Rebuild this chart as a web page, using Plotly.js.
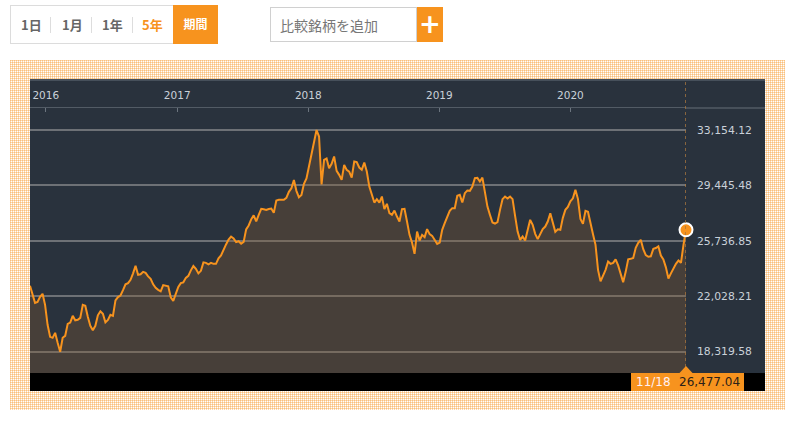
<!DOCTYPE html>
<html><head><meta charset="utf-8">
<script src="https://cdn.plot.ly/plotly-3.0.1.min.js"></script>
<style>
body{margin:0;background:#fff;width:800px;height:425px;overflow:hidden;position:relative;font-family:"Noto Sans CJK JP",sans-serif;}
.abs{position:absolute;}
#periods{left:10px;top:5px;width:205px;height:37px;border:1px solid #dcdcdc;box-sizing:content-box;}
.pbtn{position:absolute;top:0;height:37px;line-height:37px;font-size:13px;font-weight:700;color:#666;}
.sep{position:absolute;top:11px;width:1px;height:16px;background:#ddd;}
#kikan{position:absolute;left:162px;top:-1px;width:45px;height:39px;background:#f7931e;color:#fff;font-size:12px;font-weight:700;text-align:center;line-height:37px;}
#cmp{left:270px;top:7px;border:1px solid #d0d0d0;font-size:14px;color:#777;line-height:34px;padding-left:9px;box-sizing:border-box;width:147px;height:35px;}
#plus{left:417px;top:7px;width:26px;height:35px;background:#f7931e;color:#fff;font-size:26px;font-weight:700;text-align:center;line-height:34px;font-family:"DejaVu Sans",sans-serif;}
#frame{left:10px;top:60px;width:775px;height:350px;background-color:#fff;
 background-image:linear-gradient(90deg,rgba(247,147,30,0.35) 1px,transparent 1px),linear-gradient(rgba(247,147,30,0.35) 1px,transparent 1px);
 background-size:2px 2px;}
#panel{left:30px;top:79px;width:735px;height:294px;background:#29323d;border-top:2px solid #46505b;box-sizing:border-box;}
#chart{left:0;top:0;width:800px;height:425px;}
</style></head><body>
<div id="periods" class="abs">
  <span class="pbtn" style="left:10px">1日</span>
  <span class="sep" style="left:39px"></span>
  <span class="pbtn" style="left:51px">1月</span>
  <span class="sep" style="left:80px"></span>
  <span class="pbtn" style="left:91px">1年</span>
  <span class="sep" style="left:121px"></span>
  <span class="pbtn" style="left:131px;color:#f7931e">5年</span>
  <div id="kikan">期間</div>
</div>
<div id="cmp" class="abs">比較銘柄を追加</div>
<div id="plus" class="abs">+</div>
<div id="frame" class="abs"></div>
<div id="panel" class="abs"></div>
<div id="chart" class="abs"></div>
<script>
// Weekly closes, 2015-11-18 .. 2020-11-18
const firstWeek = '2015-11-18';
const closeValues = [
22726,22191,21589,21655,21990,22191,21455,20117,19314,19247,
19581,18912,18319.58,19247,19381,20183,20270,20719,20418,20451,
20585,21455,21388,20652,20050,19749,20050,20752,21020,20853,
20284,20451,20786,20719,21756,21977,22077,22438,22826,22907,
23128,23562,24064,23462,23496,23663,23596,23362,23194,22826,
22592,22458,22358,22773,22726,22693,21957,21722,22191,22659,
22907,22960,23261,23395,23763,24051,23864,23556,23730,24298,
24265,24165,24265,24198,24198,24566,24767,25162,25496,25824,
26025,25904,25650,25710,25550,25670,26506,26767,27176,27443,
27042,27477,27878,27845,27798,27865,27898,27610,28433,28480,
28480,28480,28614,29016,29250,29805,29083,28648,28801,29551,
29919,30755,31572,32241,33154.12,32716,29510,31157,31244,30601,
30889,31378,30421,30153,29819,30822,30488,30374,29972,31043,
31003,30642,30488,30976,30374,29370,28882,28300,28527,28300,
28701,27858,28213,27590,27477,27764,27363,27028,27858,27878,
27028,26138,25623,24867,26359,25757,26138,25985,26520,26185,
26072,25804,25536,25623,26473,26921,27323,27744,27925,27925,
28748,28815,28300,28929,29103,29083,29370,29932,29952,29705,
29972,29036,28032,27477,26961,26895,26988,27811,28527,28701,
28567,28701,28527,27410,26359,25804,26025,25757,26426,27142,
26808,26205,25851,26138,26520,26694,27028,27577,26874,26339,
26506,26473,27276,27811,28012,28380,28581,29149,28547,27209,
26874,27744,27677,26808,26172,25469,23797,23027,23429,23797,
24352,24198,24265,24499,24098,23496,22974,23663,24499,24533,
24586,25269,25603,25804,25182,24780,24673,24700,25202,25255,
25369,24753,24499,23964,23221,23562,23917,24198,24426,24265,
25469,26477.04
];
const yTickValues = [18319.58, 22028.21, 25736.85, 29445.48, 33154.12];
const lastLabelDate = '11/18';

const weekDates = [];
{
  const d0 = new Date(firstWeek + 'T00:00:00Z');
  for (let i = 0; i < closeValues.length; i++) {
    const d = new Date(d0.getTime() + i * 7 * 86400000);
    weekDates.push(d.toISOString().slice(0, 10));
  }
}
const lastDate = weekDates[weekDates.length - 1];
const lastVal = closeValues[closeValues.length - 1];
const fmt = v => v.toLocaleString('en-US', {minimumFractionDigits: 2, maximumFractionDigits: 2});

const ORANGE = '#f7931e';
// plot area: x 30..686, y 108..373
const W = 656, H = 265;
const px = x => (x - 30) / W;
const py = y => (373 - y) / H;

const traces = [
  {x: weekDates, y: closeValues, type: 'scatter', mode: 'lines',
   line: {color: '#f7931e', width: 2}, fill: 'tozeroy', fillcolor: 'rgba(140,95,50,0.31)',
   hoverinfo: 'skip'},
  {x: [lastDate], y: [lastVal], type: 'scatter', mode: 'markers', cliponaxis: false,
   marker: {size: 13, color: ORANGE, line: {color: '#ffffff', width: 2}}, hoverinfo: 'skip'}
];

const layout = {
  width: 800, height: 425,
  margin: {l: 30, r: 114, t: 108, b: 52},
  paper_bgcolor: 'rgba(0,0,0,0)', plot_bgcolor: '#29323d',
  showlegend: false,
  font: {family: 'DejaVu Sans, sans-serif', size: 10, color: '#c9d1d9'},
  xaxis: {type: 'date', side: 'top', range: [firstWeek, lastDate],
    tick0: '2016-01-01', dtick: 'M12', tickformat: '%Y',
    showgrid: false, zeroline: false,
    showline: true, linecolor: '#525b65', linewidth: 1.5,
    ticks: 'inside', ticklen: 4, tickcolor: '#6b747e', tickwidth: 1,
    ticklabelstandoff: 3,
    tickfont: {size: 10.5, color: '#c9d1d9'}, fixedrange: true},
  yaxis: {side: 'right', range: [16894, 34626],
    tickmode: 'array', tickvals: yTickValues, tickformat: ',.2f',
    showgrid: true, gridcolor: 'rgba(165,165,165,0.55)', gridwidth: 2,
    zeroline: false, showline: false, ticks: '', ticklabelstandoff: 10,
    tickfont: {size: 10.8, color: '#c9d1d9'}, fixedrange: true},
  shapes: [
    {type: 'line', xref: 'paper', yref: 'paper', x0: 1, x1: px(765), y0: 1, y1: 1,
     line: {color: '#525b65', width: 1.5}},
    {type: 'line', xref: 'x', yref: 'paper', x0: lastDate, x1: lastDate, y0: 0, y1: py(81),
     line: {color: '#a8773f', width: 1.5, dash: 'dot'}},
    {type: 'rect', xref: 'paper', yref: 'paper', x0: 0, x1: px(765), y0: py(391), y1: 0,
     fillcolor: '#000000', line: {width: 0}},
    {type: 'rect', xref: 'paper', yref: 'paper', x0: px(631), x1: px(744), y0: py(391), y1: py(373),
     fillcolor: ORANGE, line: {width: 0}},
    {type: 'path', xref: 'paper', yref: 'paper',
     path: `M ${px(679.5)} ${py(373)} L ${px(686)} ${py(366)} L ${px(692.5)} ${py(373)} Z`,
     fillcolor: ORANGE, line: {width: 0}}
  ],
  annotations: [
    {xref: 'paper', yref: 'paper', x: px(634), y: py(382), xanchor: 'left', yanchor: 'middle',
     text: lastLabelDate, showarrow: false, font: {size: 12, color: '#fff0f4'}},
    {xref: 'paper', yref: 'paper', x: px(742), y: py(382), xanchor: 'right', yanchor: 'middle',
     text: fmt(lastVal), showarrow: false, font: {size: 12, color: '#2b2118'}}
  ]
};

Plotly.newPlot('chart', traces, layout, {displayModeBar: false, staticPlot: true});
</script>
</body></html>
